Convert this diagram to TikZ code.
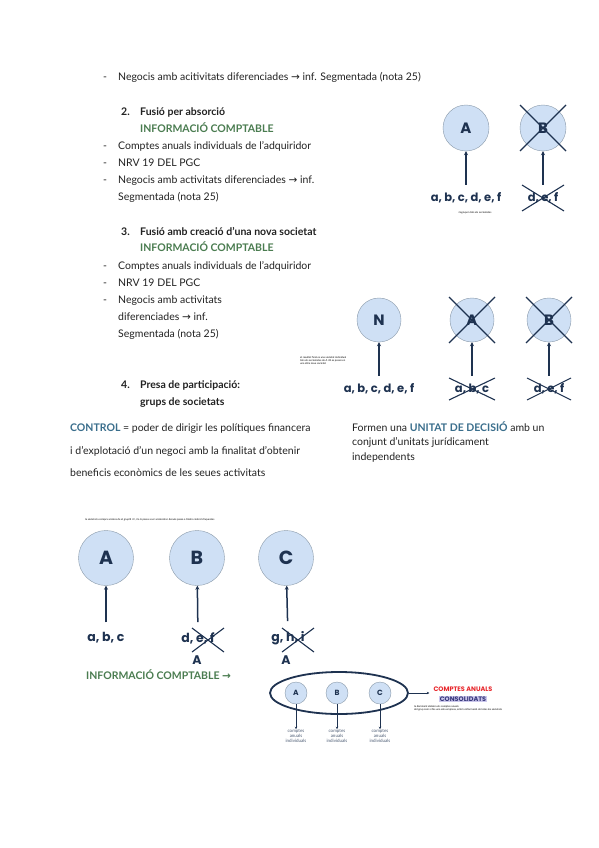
\documentclass[tikz,border=0pt]{standalone}
\usepackage{fontspec}
\setmainfont{Lato}
\newfontfamily\diag{Poppins}
\newfontfamily\symb{DejaVu Sans}
\usetikzlibrary{calc}
\usetikzlibrary{arrows.meta}
\usetikzlibrary{shapes.geometric}

\definecolor{tinta}{HTML}{222222}
\definecolor{navy}{HTML}{1E3250}
\definecolor{verd}{HTML}{4A7C50}
\definecolor{bolla}{HTML}{CFE0F5}
\definecolor{vora}{HTML}{8A9AAA}
\definecolor{blauctl}{HTML}{3A6E8C}
\definecolor{vermell}{HTML}{E8262B}
\definecolor{lila}{HTML}{CCC8EC}
\definecolor{blaufosc}{HTML}{35357A}

\newcommand{\fletxa}{{\symb\char"2192}}
\newcommand{\tatxa}[3]{%
  \draw[creu] ($(#1)+(-#2,-#3)$) -- ($(#1)+(#2,#3)$);
  \draw[creu] ($(#1)+(-#2,#3)$) -- ($(#1)+(#2,-#3)$);}

\begin{document}
\begin{tikzpicture}[x=1pt,y=-1pt,
    txt/.style={anchor=west,inner sep=0pt,text height=7.5pt,text depth=2.5pt,text=tinta,font=\fontsize{10.5}{12}\selectfont},
    guio/.style={txt},
    titol/.style={txt,font=\fontsize{10.5}{12}\selectfont\bfseries},
    infoc/.style={txt,text=verd,font=\fontsize{10.5}{12}\selectfont\bfseries},
    soc/.style={circle,draw=vora,fill=bolla,minimum size=46,inner sep=0pt,text=navy,font=\diag\bfseries\fontsize{15}{15}\selectfont},
    socg/.style={soc,minimum size=55,font=\diag\bfseries\fontsize{19}{19}\selectfont},
    socp/.style={soc,minimum size=22,font=\diag\bfseries\fontsize{7.5}{7.5}\selectfont},
    lletres/.style={inner sep=1pt,text=navy,font=\diag\bfseries\fontsize{11.5}{12}\selectfont},
    lletresg/.style={lletres,font=\diag\bfseries\fontsize{12.5}{13}\selectfont},
    fl/.style={draw=navy,line width=1.5pt,-{Stealth[length=4pt,width=4pt]},shorten <=7pt},
    flp/.style={draw=navy,line width=0.8pt,-{Stealth[length=2.5pt,width=2.5pt]}},
    creu/.style={draw=navy,line width=1.1pt},
    minuscul/.style={inner sep=0pt,align=left,text=black,font=\fontsize{2.6}{3}\selectfont},
    petit/.style={inner sep=0pt,align=center,text=navy!80,font=\fontsize{4.5}{5.2}\selectfont}]

    \useasboundingbox[fill=white] (0,0) rectangle (599,848);

    % negocis
    \node[guio] (g0) at (103,78) {-};
    \node[txt] (t0) at (118,78) {Negocis amb acitivitats diferenciades \fletxa{} inf. Segmentada (nota 25)};

    % 2. fusio per absorcio
    \node[titol] (n2) at (121,113) {2.};
    \node[titol] (s2) at (140,113) {Fusió per absorció};
    \node[infoc] (i2) at (140,130) {INFORMACIÓ COMPTABLE};
    \foreach \y/\t in {147/Comptes anuals individuals de l’adquiridor, 164/NRV 19 DEL PGC, 181/Negocis amb activitats diferenciades \fletxa{} inf.}{
        \node[guio] (ga\y) at (103,\y) {-};
        \node[txt] (ta\y) at (118,\y) {\t};
    }
    \node[txt] (ta198) at (118,198) {Segmentada (nota 25)};

    \node[soc] (A2) at (466,128) {A};
    \node[soc] (B2) at (543,128) {B};
    \node[lletres] (la2) at (466,198) {a, b, c, d, e, f};
    \node[lletres] (lb2) at (543,198) {d, e, f};
    \draw[fl] (la2) -- (A2);
    \draw[fl] (lb2) -- (B2);
    \tatxa{B2}{23}{23}
    \tatxa{lb2}{21}{13}
    \node[minuscul] (nota2) at (475,213) {s’agrupen tots els accionistes};

    % 3. fusio amb creacio
    \node[titol] (n3) at (121,233) {3.};
    \node[titol] (s3) at (140,233) {Fusió amb creació d’una nova societat};
    \node[infoc] (i3) at (140,249) {INFORMACIÓ COMPTABLE};
    \foreach \y/\t in {267/Comptes anuals individuals de l’adquiridor, 284/NRV 19 DEL PGC, 301/Negocis amb activitats}{
        \node[guio] (gb\y) at (103,\y) {-};
        \node[txt] (tb\y) at (118,\y) {\t};
    }
    \node[txt] (tb318) at (118,318) {diferenciades \fletxa{} inf.};
    \node[txt] (tb335) at (118,335) {Segmentada (nota 25)};

    \node[soc,minimum size=44] (N3) at (379,320) {N};
    \node[soc,minimum size=44] (A3) at (472,320) {A};
    \node[soc,minimum size=44] (B3) at (549,320) {B};
    \node[lletres] (ln3) at (379,389) {a, b, c, d, e, f};
    \node[lletres] (la3) at (472,389) {a, b, c};
    \node[lletres] (lb3) at (549,389) {d, e, f};
    \draw[fl] (ln3) -- (N3);
    \draw[fl] (la3) -- (A3);
    \draw[fl] (lb3) -- (B3);
    \tatxa{A3}{23}{23}
    \tatxa{B3}{23}{23}
    \tatxa{la3}{23}{11}
    \tatxa{lb3}{22}{11}
    \node[minuscul,anchor=west] (nota3) at (300,361) {el resultat final es una societat individual\\tots els accionistes de A i B es posen en\\una altra nova societat};

    % 4. presa de participacio
    \node[titol] (n4) at (121,386) {4.};
    \node[titol] (s4) at (140,386) {Presa de participació:};
    \node[titol] (s4b) at (140,403) {grups de societats};

    \node[txt] (c1) at (70,429) {\textcolor{blauctl}{\bfseries CONTROL} = poder de dirigir les polítiques financera};
    \node[txt] (c2) at (70,452) {i d’explotació d’un negoci amb la finalitat d’obtenir};
    \node[txt] (c3) at (70,474) {beneficis econòmics de les seues activitats};
    \node[txt] (u1) at (352,429) {Formen una \textcolor{blauctl}{\bfseries UNITAT DE DECISIÓ} amb un};
    \node[txt] (u2) at (352,443) {conjunt d’unitats jurídicament};
    \node[txt] (u3) at (352,458) {independents};

    % grup A, B, C
    \node[minuscul,anchor=west] (nota4) at (85,520) {la societat a compra accions de el grup B i C, i la A passa a ser accionista i desvés passa a tindre control d’aquestes};
    \node[socg] (A4) at (106,558) {A};
    \node[socg] (B4) at (197,558) {B};
    \node[socg] (C4) at (286,558) {C};
    \node[lletresg] (la4) at (106,638) {a, b, c};
    \node[lletresg] (lb4) at (198,638) {d, e, f};
    \node[lletresg] (lc4) at (288,638) {g, h, i};
    \node[lletresg] (pa4) at (197,660) {A};
    \node[lletresg] (pc4) at (286,660) {A};
    \draw[fl,shorten <=9pt] (la4) -- (A4);
    \draw[fl,shorten <=9pt] (lb4) -- (B4);
    \draw[fl,shorten <=9pt] (lc4) -- (C4);
    \coordinate (xb) at (208,640);
    \coordinate (xc) at (298,640);
    \tatxa{xb}{16}{12}
    \tatxa{xc}{16}{12}
    \node[infoc,font=\fontsize{10.5}{12}\selectfont\bfseries] (i4) at (86,677) {INFORMACIÓ COMPTABLE \fletxa};

    % consolidacio
    \node[ellipse,draw=navy,line width=1.8pt,minimum width=138,minimum height=42] (grup) at (339,693) {};
    \node[socp] (Ap) at (296,693) {A};
    \node[socp] (Bp) at (337,693) {B};
    \node[socp] (Cp) at (380,693) {C};
    \foreach \s in {A,B,C}{
        \node[petit,anchor=north] (ca\s) at ($(\s p.south)+(0,25)$) {comptes\\anuals\\individuals};
        \draw[flp] (\s p.south) -- (ca\s.north);
    }
    \node[inner sep=0pt,text=vermell,font=\diag\bfseries\fontsize{6.5}{7}\selectfont] (cac) at (463,689) {COMPTES ANUALS};
    \node[inner sep=0.6pt,fill=lila,text=blaufosc,font=\diag\bfseries\fontsize{6.5}{7}\selectfont] (cons) at (463,699) {CONSOLIDATS};
    \draw[flp,shorten >=4pt] (grup.east) -- (grup.east -| cac.west);
    \node[minuscul,anchor=west] (nota5) at (414,708) {la dominant elabora els comptes anuals\\del grup com si fos una sola empresa, amb la informació de totes les societats};

\end{tikzpicture}
\end{document}
